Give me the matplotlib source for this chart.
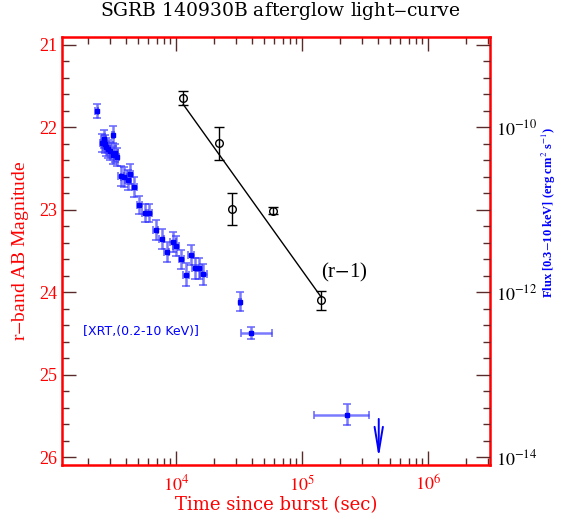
import numpy as np
import matplotlib
matplotlib.use("Agg")
import matplotlib.pyplot as plt
from matplotlib.ticker import FixedLocator, NullFormatter, FuncFormatter, LogLocator

# ---------------- data ----------------
# optical r-band (r-1) points
opt_t = [11360, 21800, 27800, 58500, 142000]
opt_mag = [21.64, 22.19, 22.99, 23.01, 24.10]
opt_err = [0.085, 0.20, 0.20, 0.04, 0.11]

# power-law fit line endpoints
fit_t = [11400, 142000]
fit_mag = [21.72, 24.06]

# XRT flux (erg cm^-2 s^-1)
xrt_t = [2350, 2590, 2660, 2710, 2780, 2880, 3150, 2990, 3160, 3280, 3400,
         3660, 3870, 4140, 4320, 4650, 5120, 5680, 6140, 6930, 7710, 8440,
         9520, 10000, 10960, 12000, 13150, 14150, 15310, 16480, 32200]
xrt_f = [1.58e-10, 6.5e-11, 7.2e-11, 6.3e-11, 5.8e-11, 5.5e-11, 8.2e-11,
         5.2e-11, 4.6e-11, 4.9e-11, 4.4e-11, 2.57e-11, 2.5e-11, 2.3e-11,
         2.7e-11, 1.89e-11, 1.14e-11, 9.2e-12, 9.2e-12, 5.7e-12, 4.4e-12,
         3.1e-12, 4.1e-12, 3.6e-12, 2.5e-12, 1.62e-12, 2.8e-12, 1.95e-12,
         1.95e-12, 1.65e-12, 7.7e-13]
xrt_dlogf = [0.08, 0.11, 0.11, 0.11, 0.11, 0.11, 0.10, 0.11, 0.11, 0.11,
             0.11, 0.12, 0.12, 0.12, 0.12, 0.12, 0.11, 0.11, 0.11, 0.12,
             0.12, 0.12, 0.12, 0.12, 0.12, 0.14, 0.12, 0.13, 0.13, 0.13, 0.115]
xrt_dlogt = [0.01, 0.02, 0.02, 0.02, 0.02, 0.02, 0.01, 0.02, 0.02, 0.02,
             0.02, 0.025, 0.025, 0.025, 0.025, 0.02, 0.02, 0.025, 0.025,
             0.02, 0.02, 0.02, 0.025, 0.025, 0.02, 0.02, 0.02, 0.025, 0.025,
             0.025, 0.01]

# late XRT points with asymmetric time bins
late_t = [39400, 229000]
late_tlo = [32600, 125000]
late_thi = [58000, 342000]
late_f = [3.2e-13, 3.27e-14]
late_dlogf = [0.067, 0.123]

# upper limit
ul_t = [406000]
ul_f = [2.9e-14]
ul_f_end = [9.8e-15]

# axis ranges
mag_lim = (26.097, 20.903)
t_lim = (1245, 3.1e6)

# ---------------- figure ----------------
serif = ["Liberation Serif", "DejaVu Serif"]
wide = ["DejaVu Serif"]
plt.rcParams["font.family"] = serif
plt.rcParams["mathtext.fontset"] = "stix"

fig = plt.figure(figsize=(5.62, 5.19), dpi=100)
ax = fig.add_axes([0.1103, 0.104, 0.7616, 0.8247])
ax.set_xscale("log")
ax.set_xlim(*t_lim)
ax.set_ylim(*mag_lim)

tickc = "#5a2a2a"
for sp in ax.spines.values():
    sp.set_color("red")
    sp.set_linewidth(1.8)

# optical
ax.plot(fit_t, fit_mag, color="black", lw=1.0, zorder=3)
ax.errorbar(opt_t, opt_mag, yerr=opt_err, fmt="o", mfc="none", mec="black",
            ms=5.5, mew=1.0, ecolor="black", elinewidth=1.0, capsize=3.5,
            capthick=1.0, zorder=4)
ax.text(215000, 23.76, "(r$-$1)", fontsize=15, ha="center", va="center",
        color="black")

ax.yaxis.set_major_locator(FixedLocator([21, 22, 23, 24, 25, 26]))
ax.yaxis.set_minor_locator(FixedLocator(np.arange(21.0, 26.01, 0.2)))
ax.xaxis.set_major_locator(LogLocator(base=10, numticks=10))
ax.xaxis.set_minor_locator(LogLocator(base=10, subs=np.arange(2, 10), numticks=20))
ax.xaxis.set_minor_formatter(NullFormatter())
ax.xaxis.set_major_formatter(FuncFormatter(
    lambda v, p: r"$10^{%d}$" % int(round(np.log10(v)))))
ax.tick_params(which="both", direction="in", color=tickc, top=True,
               right=False, labelcolor="red", labelsize=13)
ax.tick_params(which="major", length=10, width=1.0)
ax.tick_params(which="minor", length=5, width=1.0)
ax.tick_params(axis="x", pad=7)

ax.set_xlabel("Time since burst (sec)", color="red", fontsize=13,
              family=wide, labelpad=1)
ax.set_ylabel("r$-$band AB Magnitude", color="red", fontsize=14, labelpad=6)

# XRT on twin axis
ax2 = ax.twinx()
ax2.set_yscale("log")
ax2.set_ylim(10 ** (12 - mag_lim[0]), 10 ** (12 - mag_lim[1]))
ax2.set_xlim(*t_lim)
for sp in ax2.spines.values():
    sp.set_visible(False)

xt = np.array(xrt_t, float)
xf = np.array(xrt_f, float)
dlf = np.array(xrt_dlogf)
dlt = np.array(xrt_dlogt)
yerr = [xf - xf / 10 ** dlf, xf * 10 ** dlf - xf]
xerr = [xt - xt / 10 ** dlt, xt * 10 ** dlt - xt]
ebc = (0.2, 0.2, 1.0, 0.65)
eb = ax2.errorbar(xt, xf, yerr=yerr, xerr=xerr, fmt="s", ms=3, mfc="blue",
                  mec="blue", ecolor=ebc, elinewidth=1.8, capsize=3,
                  capthick=1.3, zorder=3)
for cl in eb[1]:
    cl.set_color("blue")

lt = np.array(late_t, float)
lf = np.array(late_f, float)
ldf = np.array(late_dlogf)
yerr2 = [lf - lf / 10 ** ldf, lf * 10 ** ldf - lf]
xerr2 = [lt - np.array(late_tlo), np.array(late_thi) - lt]
eb2 = ax2.errorbar(lt, lf, yerr=yerr2, xerr=xerr2, fmt="s", ms=3, mfc="blue",
                   mec="blue", ecolor=ebc, elinewidth=1.8, capsize=3,
                   capthick=1.3, zorder=3)
for cl in eb2[1]:
    cl.set_color("blue")

for t0, f0, f1 in zip(ul_t, ul_f, ul_f_end):
    ax2.annotate("", xy=(t0, f1), xytext=(t0, f0),
                 arrowprops=dict(arrowstyle="->,head_length=1.8,head_width=0.3",
                                 mutation_scale=10, color="blue", lw=1.4,
                                 shrinkA=0, shrinkB=0))

ax2.yaxis.set_major_locator(FixedLocator([10.0 ** k for k in range(-14, -8)]))
ax2.yaxis.set_minor_locator(FixedLocator(10 ** np.arange(-14.0, -8.95, 0.2)))
ax2.yaxis.set_minor_formatter(NullFormatter())
ax2.yaxis.set_major_formatter(FuncFormatter(
    lambda v, p: (r"$10^{%d}$" % int(round(np.log10(v))))
    if int(round(np.log10(v))) % 2 == 0 else ""))
ax2.tick_params(axis="y", which="both", direction="in", color=tickc,
                labelcolor="black", labelsize=13, left=False, right=True,
                pad=4)
ax2.tick_params(axis="y", which="major", length=10, width=1.0)
ax2.tick_params(axis="y", which="minor", length=5, width=1.0)

ax.text(0.05, 0.311, "[XRT,(0.2-10 KeV)]", transform=ax.transAxes,
        color="blue", fontsize=9, family=["DejaVu Sans"], va="center",
        ha="left")

fig.text(0.976, 0.59, "Flux [0.3$-$10 keV] (erg cm$^{2}$ s$^{-1}$)",
         rotation=90, color="blue", fontsize=9, fontweight="bold",
         ha="center", va="center")

fig.text(0.498, 0.979, "SGRB 140930B afterglow light$-$curve", fontsize=13.5,
         family=wide, ha="center", va="center", color="black")

fig.savefig("out.png", dpi=100)
